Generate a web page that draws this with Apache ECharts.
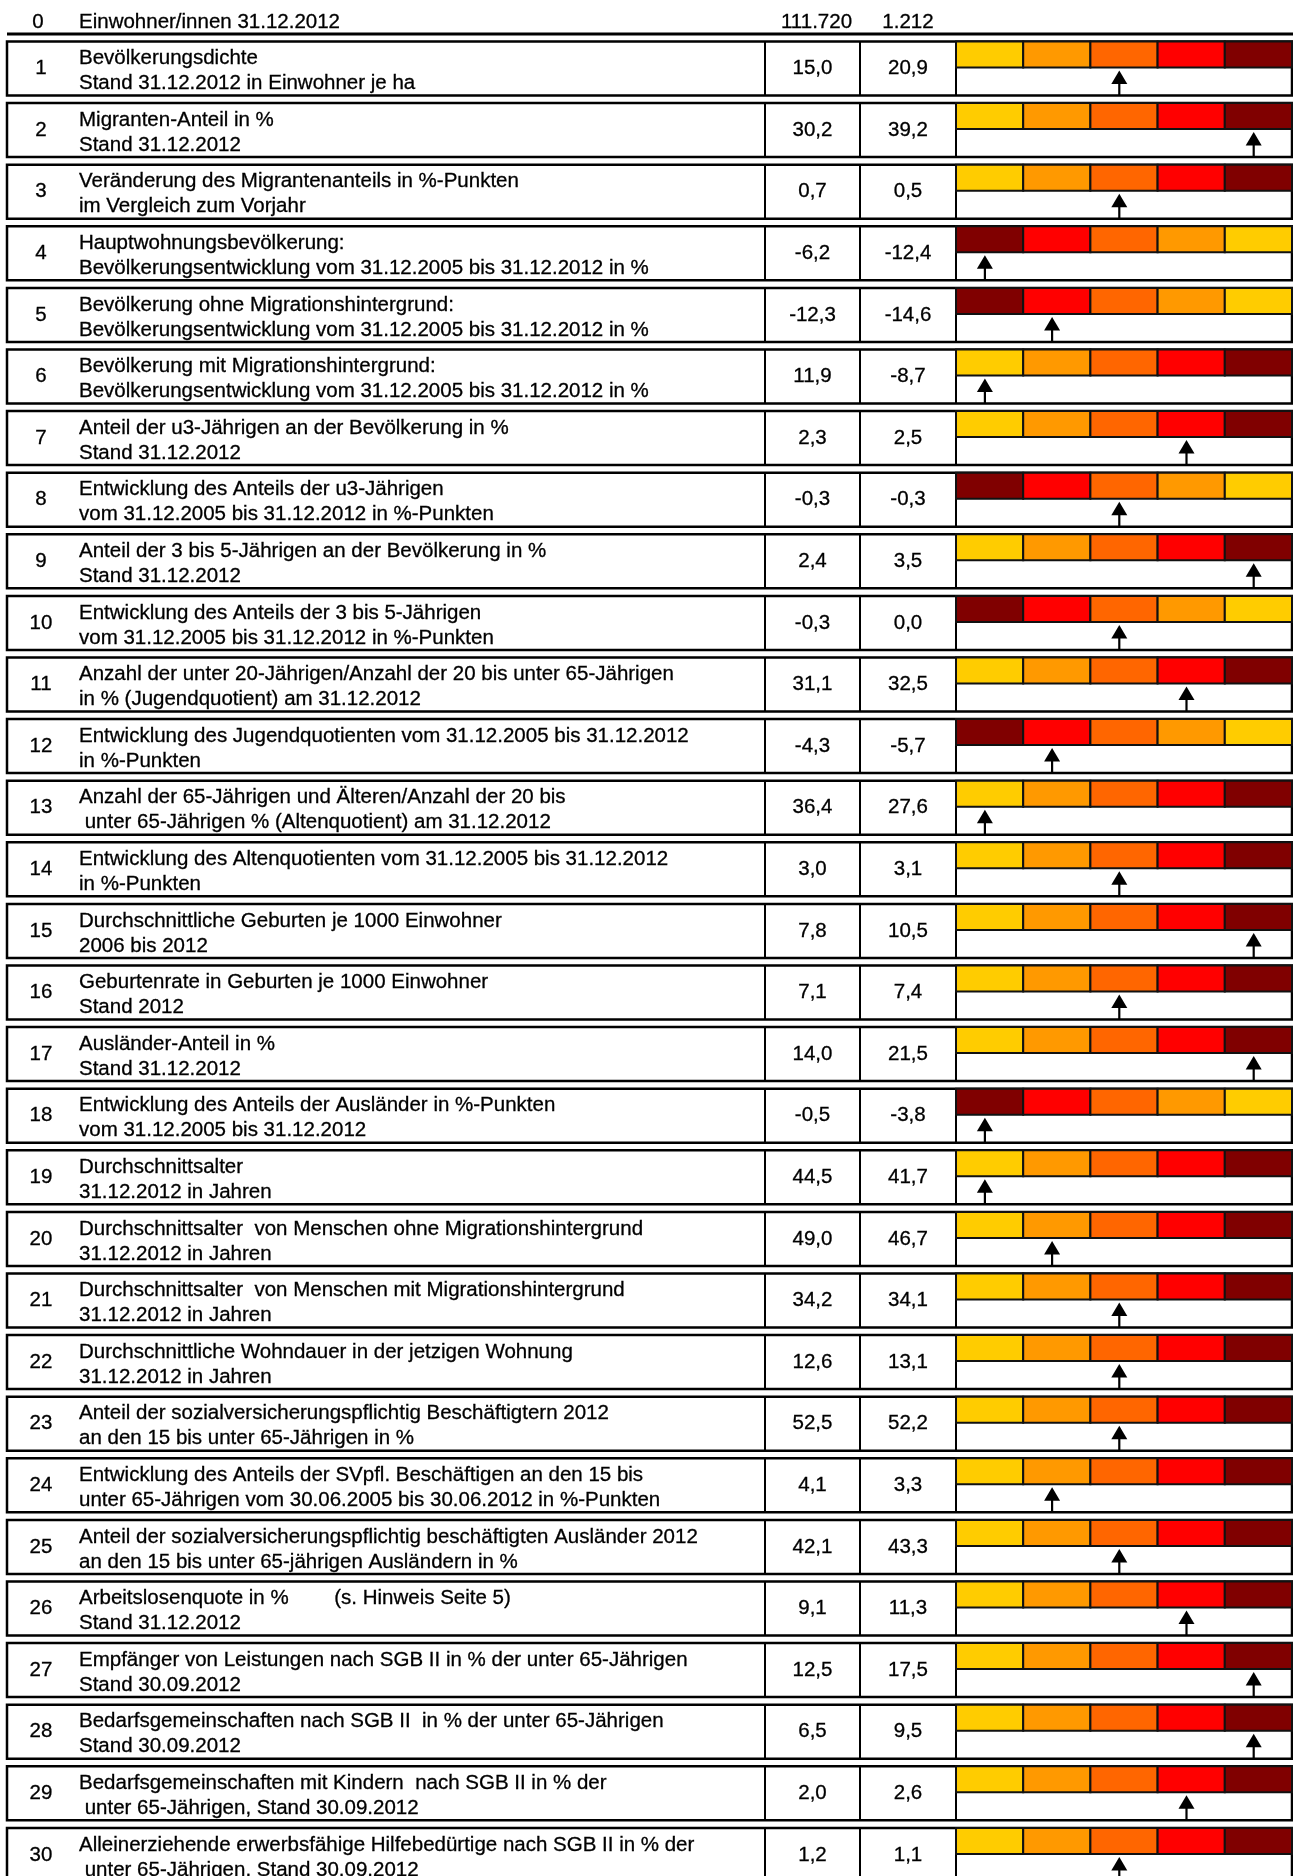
<!DOCTYPE html>
<html><head><meta charset="utf-8">
<script src="https://cdn.jsdelivr.net/npm/echarts@6/dist/echarts.min.js"></script>
<style>html,body{margin:0;padding:0;background:#fff}#c{width:1293px;height:1876px}</style>
</head><body><div id="c"></div>
<script>
// ---------------- DATA ----------------
const headerNumber = '0';
const headerLabel = 'Einwohner/innen 31.12.2012';
const headerValueA = '111.720';
const headerValueB = '1.212';

const rowNumbers = [1,2,3,4,5,6,7,8,9,10,11,12,13,14,15,16,17,18,19,20,21,22,23,24,25,26,27,28,29,30];

const labelLine1 = [
  'Bevölkerungsdichte',
  'Migranten-Anteil in %',
  'Veränderung des Migrantenanteils in %-Punkten',
  'Hauptwohnungsbevölkerung:',
  'Bevölkerung ohne Migrationshintergrund:',
  'Bevölkerung mit Migrationshintergrund:',
  'Anteil der u3-Jährigen an der Bevölkerung in %',
  'Entwicklung des Anteils der u3-Jährigen',
  'Anteil der 3 bis 5-Jährigen an der Bevölkerung in %',
  'Entwicklung des Anteils der 3 bis 5-Jährigen',
  'Anzahl der unter 20-Jährigen/Anzahl der 20 bis unter 65-Jährigen',
  'Entwicklung des Jugendquotienten vom 31.12.2005 bis 31.12.2012',
  'Anzahl der 65-Jährigen und Älteren/Anzahl der 20 bis',
  'Entwicklung des Altenquotienten vom 31.12.2005 bis 31.12.2012',
  'Durchschnittliche Geburten je 1000 Einwohner',
  'Geburtenrate in Geburten je 1000 Einwohner',
  'Ausländer-Anteil in %',
  'Entwicklung des Anteils der Ausländer in %-Punkten',
  'Durchschnittsalter',
  'Durchschnittsalter  von Menschen ohne Migrationshintergrund',
  'Durchschnittsalter  von Menschen mit Migrationshintergrund',
  'Durchschnittliche Wohndauer in der jetzigen Wohnung',
  'Anteil der sozialversicherungspflichtig Beschäftigtern 2012',
  'Entwicklung des Anteils der SVpfl. Beschäftigen an den 15 bis',
  'Anteil der sozialversicherungspflichtig beschäftigten Ausländer 2012',
  'Arbeitslosenquote in %        (s. Hinweis Seite 5)',
  'Empfänger von Leistungen nach SGB II in % der unter 65-Jährigen',
  'Bedarfsgemeinschaften nach SGB II  in % der unter 65-Jährigen',
  'Bedarfsgemeinschaften mit Kindern  nach SGB II in % der',
  'Alleinerziehende erwerbsfähige Hilfebedürtige nach SGB II in % der'
];

const labelLine2 = [
  'Stand 31.12.2012 in Einwohner je ha',
  'Stand 31.12.2012',
  'im Vergleich zum Vorjahr',
  'Bevölkerungsentwicklung vom 31.12.2005 bis 31.12.2012 in %',
  'Bevölkerungsentwicklung vom 31.12.2005 bis 31.12.2012 in %',
  'Bevölkerungsentwicklung vom 31.12.2005 bis 31.12.2012 in %',
  'Stand 31.12.2012',
  'vom 31.12.2005 bis 31.12.2012 in %-Punkten',
  'Stand 31.12.2012',
  'vom 31.12.2005 bis 31.12.2012 in %-Punkten',
  'in % (Jugendquotient) am 31.12.2012',
  'in %-Punkten',
  ' unter 65-Jährigen % (Altenquotient) am 31.12.2012',
  'in %-Punkten',
  '2006 bis 2012',
  'Stand 2012',
  'Stand 31.12.2012',
  'vom 31.12.2005 bis 31.12.2012',
  '31.12.2012 in Jahren',
  '31.12.2012 in Jahren',
  '31.12.2012 in Jahren',
  '31.12.2012 in Jahren',
  'an den 15 bis unter 65-Jährigen in %',
  'unter 65-Jährigen vom 30.06.2005 bis 30.06.2012 in %-Punkten',
  'an den 15 bis unter 65-jährigen Ausländern in %',
  'Stand 31.12.2012',
  'Stand 30.09.2012',
  'Stand 30.09.2012',
  ' unter 65-Jährigen, Stand 30.09.2012',
  ' unter 65-Jährigen, Stand 30.09.2012'
];

const valueA = [15.0, 30.2, 0.7, -6.2, -12.3, 11.9, 2.3, -0.3, 2.4, -0.3, 31.1, -4.3, 36.4, 3.0, 7.8, 7.1, 14.0, -0.5, 44.5, 49.0, 34.2, 12.6, 52.5, 4.1, 42.1, 9.1, 12.5, 6.5, 2.0, 1.2];
const valueB = [20.9, 39.2, 0.5, -12.4, -14.6, -8.7, 2.5, -0.3, 3.5, 0.0, 32.5, -5.7, 27.6, 3.1, 10.5, 7.4, 21.5, -3.8, 41.7, 46.7, 34.1, 13.1, 52.2, 3.3, 43.3, 11.3, 17.5, 9.5, 2.6, 1.1];

// true = colour scale runs dark red -> yellow (left to right)
const reversedScale = [false,false,false,true,true,false,false,true,false,true,false,true,false,false,false,false,false,true,false,false,false,false,false,false,false,false,false,false,false,false];

// class (0..4, left to right) marked by the arrow
const arrowClass = [2,4,2,0,1,0,3,2,4,2,3,1,0,2,4,2,4,0,0,1,2,2,2,1,2,3,4,4,3,2];

const classes = [0,1,2,3,4];
const scaleColors = ['#FFCC00','#FF9900','#FF6600','#FF0000','#800000'];

// ---------------- LAYOUT (style only) ----------------
const L = {
  W: 1293, boxLeft: 7, numX: 41, labelX: 79, col1: 765, col2: 860, col3: 956, right: 1292,
  gridTop: 37.7, gridHeight: 1848, gap: 7.6,
  line1: 17, line2: 42, colorH: 26, arrowOffset: 0.43,
  font: 20.5, family: '"Liberation Sans", Arial, Helvetica, sans-serif'
};

function fmt(v) { return v.toFixed(1).replace('.', ','); }

function rowGeom(api, i) {
  const c = api.coord([0, i]);
  const band = api.size([0, 1])[1];
  const h = band - L.gap;
  return { cy: c[1], top: c[1] - h / 2, h: h };
}

function txt(text, x, y, align) {
  return { type: 'text', style: { text: text, x: x, y: y, align: align || 'left', verticalAlign: 'middle',
    fontSize: L.font, fontFamily: L.family, fill: '#000', stroke: '#000', lineWidth: 0.3 } };
}

function renderRow(params, api) {
  const i = api.value(1);
  const g = rowGeom(api, i);
  const X = v => api.coord([v, i])[0];
  const children = [
    { type: 'rect', shape: { x: X(L.boxLeft), y: g.top, width: X(L.right) - X(L.boxLeft), height: g.h },
      style: { fill: '#fff', stroke: '#000', lineWidth: 2.5 } },
    { type: 'line', shape: { x1: X(L.col1), y1: g.top, x2: X(L.col1), y2: g.top + g.h }, style: { stroke: '#000', lineWidth: 2 } },
    { type: 'line', shape: { x1: X(L.col2), y1: g.top, x2: X(L.col2), y2: g.top + g.h }, style: { stroke: '#000', lineWidth: 2 } },
    { type: 'line', shape: { x1: X(L.col3), y1: g.top, x2: X(L.col3), y2: g.top + g.h }, style: { stroke: '#000', lineWidth: 2 } },
    txt(String(rowNumbers[i]), X(L.numX), g.cy, 'center'),
    txt(labelLine1[i], X(L.labelX), g.top + L.line1),
    txt(labelLine2[i], X(L.labelX), g.top + L.line2),
    txt(fmt(valueA[i]), (X(L.col1) + X(L.col2)) / 2, g.cy, 'center'),
    txt(fmt(valueB[i]), (X(L.col2) + X(L.col3)) / 2, g.cy, 'center')
  ];
  return { type: 'group', children: children };
}

function renderCell(params, api) {
  const k = api.value(0), i = api.value(1), ci = api.value(2);
  const g = rowGeom(api, i);
  const x0 = api.coord([k, i])[0], x1 = api.coord([k + 1, i])[0];
  return { type: 'rect', shape: { x: x0, y: g.top, width: x1 - x0, height: L.colorH },
    style: { fill: scaleColors[ci], stroke: '#111', lineWidth: 2 } };
}

function renderArrow(params, api) {
  const v = api.value(0), i = api.value(1);
  const g = rowGeom(api, i);
  const ax = api.coord([v + L.arrowOffset, i])[0];
  const tip = g.top + L.colorH + 3;
  const base = tip + 13.5;
  return { type: 'group', children: [
    { type: 'line', shape: { x1: ax, y1: base - 1, x2: ax, y2: g.top + g.h }, style: { stroke: '#000', lineWidth: 2.2 } },
    { type: 'polygon', shape: { points: [[ax, tip], [ax - 8, base], [ax + 8, base]] }, style: { fill: '#000' } }
  ] };
}

const rowData = rowNumbers.map((n, i) => [0, i]);
const cellData = [];
rowNumbers.forEach((n, i) => classes.forEach(k => cellData.push([k, i, reversedScale[i] ? 4 - k : k])));
const arrowData = arrowClass.map((c, i) => [c, i]);

const hdrStyle = (text, align) => ({ text: text, align: align, verticalAlign: 'middle', fontSize: L.font, fontFamily: L.family, fill: '#000', stroke: '#000', lineWidth: 0.3 });

const chart = echarts.init(document.getElementById('c'), null, { renderer: 'canvas' });
chart.setOption({
  animation: false,
  backgroundColor: '#fff',
  grid: [
    { left: 0, width: L.W, top: L.gridTop, height: L.gridHeight, outerBoundsMode: 'none', containLabel: false },
    { left: L.col3, width: L.right - L.col3, top: L.gridTop, height: L.gridHeight, outerBoundsMode: 'none', containLabel: false }
  ],
  xAxis: [
    { gridIndex: 0, type: 'value', min: 0, max: L.W, show: false },
    { gridIndex: 1, type: 'value', min: 0, max: classes.length, show: false }
  ],
  yAxis: [
    { gridIndex: 0, type: 'category', data: rowNumbers, inverse: true, show: false },
    { gridIndex: 1, type: 'category', data: rowNumbers, inverse: true, show: false }
  ],
  graphic: [
    { type: 'line', shape: { x1: L.boxLeft, y1: 34, x2: L.W, y2: 34 }, style: { stroke: '#000', lineWidth: 3 } },
    { type: 'text', x: 38, y: 22, style: hdrStyle(headerNumber, 'center') },
    { type: 'text', x: L.labelX, y: 22, style: hdrStyle(headerLabel, 'left') },
    { type: 'text', x: (L.col1 + L.col2) / 2 + 4, y: 22, style: hdrStyle(headerValueA, 'center') },
    { type: 'text', x: (L.col2 + L.col3) / 2, y: 22, style: hdrStyle(headerValueB, 'center') }
  ],
  series: [
    { type: 'custom', xAxisIndex: 0, yAxisIndex: 0, data: rowData, renderItem: renderRow, clip: false, z: 1 },
    { type: 'custom', xAxisIndex: 1, yAxisIndex: 1, data: cellData, renderItem: renderCell, clip: false, z: 2 },
    { type: 'custom', xAxisIndex: 1, yAxisIndex: 1, data: arrowData, renderItem: renderArrow, clip: false, z: 3 }
  ]
});
</script>
</body></html>
